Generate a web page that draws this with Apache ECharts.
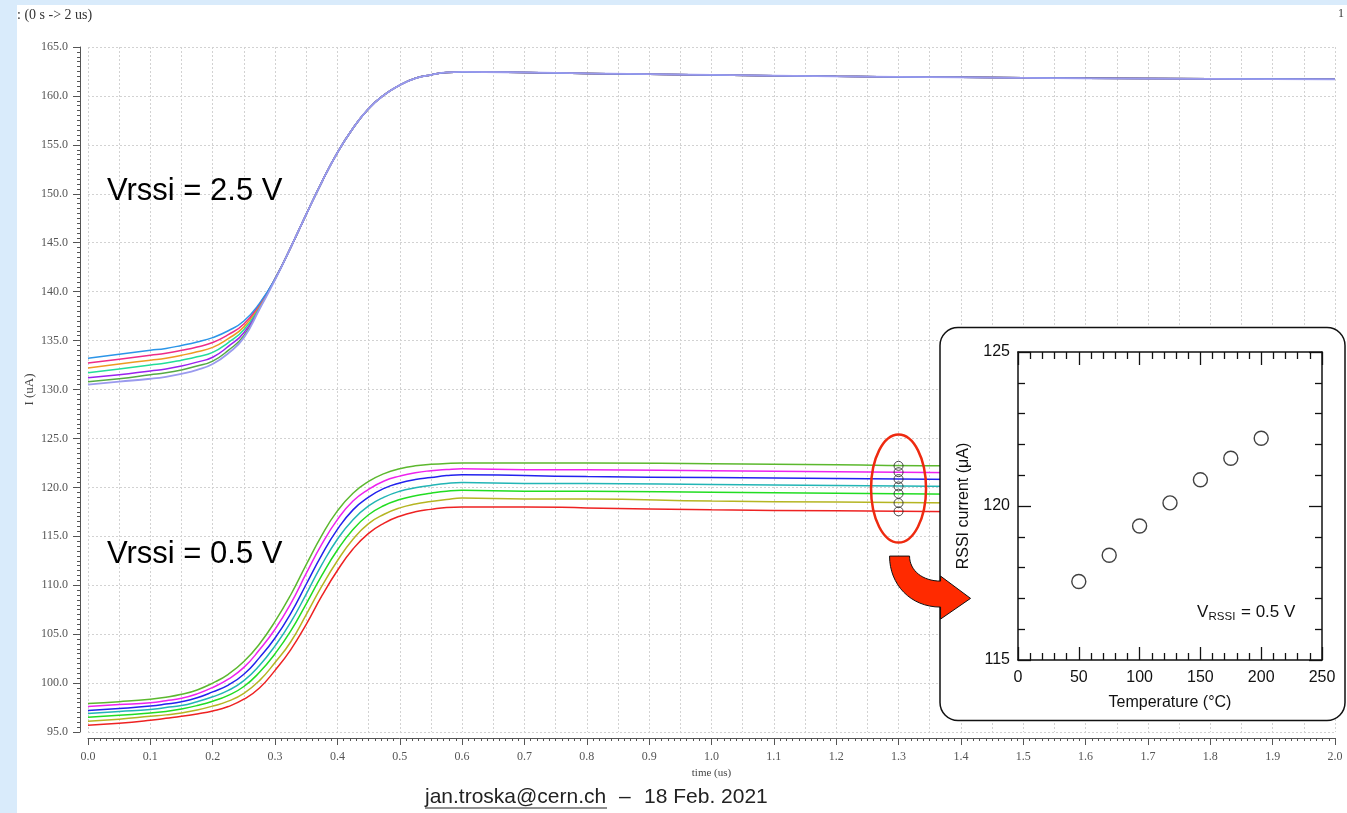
<!DOCTYPE html>
<html><head><meta charset="utf-8">
<script src="https://cdn.jsdelivr.net/npm/echarts/dist/echarts.min.js"></script>
<style>
html,body{margin:0;padding:0;width:1347px;height:813px;overflow:hidden;background:#d9ebfb;}
#bg{position:absolute;left:17px;top:5px;width:1330px;height:808px;background:#fff;}
#chart{position:absolute;left:0;top:0;width:1347px;height:813px;}
</style></head><body><div id="bg"></div><div id="chart"></div>
<script>
// ---- data ----
const timeUs = [0, 0.05, 0.1, 0.125, 0.15, 0.175, 0.2, 0.225, 0.25, 0.275, 0.3, 0.325, 0.35, 0.375, 0.4, 0.425, 0.45, 0.475, 0.5, 0.525, 0.55, 0.575, 0.6, 0.7, 0.8, 1.0, 1.2, 1.4, 1.6, 1.8, 2.0];

// Vrssi = 2.5 V traces (uA)
const hiBlue   = [133.2, 133.6, 134.0, 134.2, 134.5, 134.85, 135.3, 136.0, 137.0, 138.8, 141.3, 144.5, 147.9, 151.2, 154.2, 156.7, 158.7, 160.1, 161.1, 161.8, 162.15, 162.4, 162.45, 162.4, 162.3, 162.15, 162.0, 161.9, 161.8, 161.75, 161.7];
const hiPink   = [132.7, 133.1, 133.5, 133.7, 134.0, 134.35, 134.8, 135.6, 136.7, 138.7, 141.3, 144.5, 147.9, 151.2, 154.2, 156.7, 158.7, 160.1, 161.1, 161.8, 162.15, 162.4, 162.45, 162.4, 162.3, 162.15, 162.0, 161.9, 161.8, 161.75, 161.7];
const hiOrange = [132.2, 132.6, 133.0, 133.2, 133.5, 133.85, 134.3, 135.2, 136.4, 138.6, 141.3, 144.5, 147.9, 151.2, 154.2, 156.7, 158.7, 160.1, 161.1, 161.8, 162.15, 162.4, 162.45, 162.4, 162.3, 162.15, 162.0, 161.9, 161.8, 161.75, 161.7];
const hiTeal   = [131.7, 132.1, 132.5, 132.7, 133.0, 133.35, 133.8, 134.8, 136.1, 138.5, 141.3, 144.5, 147.9, 151.2, 154.2, 156.7, 158.7, 160.1, 161.1, 161.8, 162.15, 162.4, 162.45, 162.4, 162.3, 162.15, 162.0, 161.9, 161.8, 161.75, 161.7];
const hiPurple = [131.2, 131.5, 131.9, 132.1, 132.4, 132.8, 133.3, 134.4, 135.8, 138.4, 141.3, 144.5, 147.9, 151.2, 154.2, 156.7, 158.7, 160.1, 161.1, 161.8, 162.15, 162.4, 162.45, 162.4, 162.3, 162.15, 162.0, 161.9, 161.8, 161.75, 161.7];
const hiGreen  = [130.8, 131.1, 131.5, 131.7, 132.0, 132.4, 132.9, 134.0, 135.5, 138.3, 141.3, 144.5, 147.9, 151.2, 154.2, 156.7, 158.7, 160.1, 161.1, 161.8, 162.15, 162.4, 162.45, 162.4, 162.3, 162.15, 162.0, 161.9, 161.8, 161.75, 161.7];
const hiLav    = [130.5, 130.8, 131.1, 131.3, 131.6, 132.0, 132.6, 133.7, 135.3, 138.2, 141.2, 144.5, 147.9, 151.2, 154.2, 156.7, 158.7, 160.1, 161.1, 161.8, 162.15, 162.4, 162.45, 162.4, 162.3, 162.15, 162.0, 161.9, 161.8, 161.75, 161.7];

// Vrssi = 0.5 V traces (uA)
const lowGreen   = [97.9, 98.1, 98.35, 98.55, 98.85, 99.3, 100.0, 100.9, 102.2, 104.0, 106.3, 109.0, 112.1, 115.1, 117.6, 119.4, 120.6, 121.4, 121.9, 122.2, 122.35, 122.45, 122.5, 122.5, 122.5, 122.4, 122.3, 122.2, 122.2, 122.2, 122.2];
const lowMagenta = [97.6, 97.8, 98.0, 98.2, 98.45, 98.9, 99.55, 100.4, 101.6, 103.4, 105.5, 108.1, 111.2, 114.2, 116.7, 118.6, 119.8, 120.65, 121.15, 121.5, 121.7, 121.82, 121.9, 121.8, 121.8, 121.7, 121.6, 121.5, 121.4, 121.4, 121.4];
const lowBlue    = [97.2, 97.4, 97.65, 97.85, 98.1, 98.5, 99.1, 99.8, 100.9, 102.6, 104.6, 107.1, 110.1, 113.1, 115.7, 117.7, 119.0, 119.9, 120.45, 120.8, 121.0, 121.2, 121.3, 121.2, 121.1, 121.0, 120.9, 120.8, 120.7, 120.7, 120.7];
const lowCyan    = [96.9, 97.1, 97.3, 97.5, 97.7, 98.1, 98.6, 99.25, 100.25, 101.8, 103.8, 106.2, 109.1, 112.1, 114.7, 116.7, 118.1, 119.0, 119.6, 119.95, 120.2, 120.4, 120.5, 120.4, 120.4, 120.3, 120.2, 120.1, 120.0, 120.0, 120.0];
const lowLime    = [96.5, 96.7, 96.95, 97.1, 97.35, 97.7, 98.15, 98.75, 99.65, 101.1, 103.0, 105.3, 108.1, 111.0, 113.6, 115.7, 117.2, 118.15, 118.75, 119.15, 119.4, 119.6, 119.7, 119.6, 119.6, 119.5, 119.4, 119.3, 119.2, 119.2, 119.2];
const lowOlive   = [96.1, 96.3, 96.6, 96.75, 96.95, 97.25, 97.65, 98.15, 98.95, 100.25, 102.1, 104.2, 107.0, 109.9, 112.5, 114.7, 116.3, 117.25, 117.9, 118.3, 118.55, 118.75, 118.9, 118.8, 118.8, 118.6, 118.5, 118.4, 118.3, 118.3, 118.3];
const lowRed     = [95.7, 95.9, 96.2, 96.4, 96.6, 96.85, 97.15, 97.6, 98.35, 99.5, 101.3, 103.4, 106.0, 108.9, 111.5, 113.7, 115.3, 116.35, 117.05, 117.5, 117.75, 117.95, 118.0, 118.0, 117.9, 117.7, 117.6, 117.5, 117.4, 117.4, 117.4];

// inset: RSSI current vs temperature at Vrssi = 0.5 V, sampled at t = 1.3 us
const tempC = [50, 75, 100, 125, 150, 175, 200];
const rssiCurrent = [117.55, 118.4, 119.35, 120.1, 120.85, 121.55, 122.2];
const sampleTimeUs = 1.3;

const hiColors  = ['#2b95e8', '#ee2b88', '#ee9a22', '#22dd99', '#9a22ee', '#55aa44', '#9a9aee'];
const lowColors = ['#5cb82e', '#ee22ee', '#2222ee', '#22b5b5', '#22dd22', '#b5b522', '#ee2222'];
const hiSets  = [hiGreen, hiPurple, hiTeal, hiOrange, hiPink, hiBlue, hiLav];
const hiCol   = [hiColors[5], hiColors[4], hiColors[3], hiColors[2], hiColors[1], hiColors[0], hiColors[6]];
const lowSets = [lowRed, lowOlive, lowLime, lowCyan, lowBlue, lowMagenta, lowGreen];
const lowCol  = [lowColors[6], lowColors[5], lowColors[4], lowColors[3], lowColors[2], lowColors[1], lowColors[0]];

const chart = echarts.init(document.getElementById('chart'), null, {renderer: 'canvas'});

const serif = 'Liberation Serif';
const sans = 'Liberation Sans';
const axisGray = '#555';

function traceSeries(vals, color, w) {
  return {
    type: 'line', xAxisIndex: 0, yAxisIndex: 0,
    data: timeUs.map((t, i) => [t, vals[i]]),
    showSymbol: false, smooth: 0.5,
    lineStyle: {color: color, width: w}, z: 3, silent: true
  };
}

const series = [];
hiSets.forEach((s, i) => series.push(traceSeries(s, hiCol[i], i === 6 ? 1.8 : 1.5)));
lowSets.forEach((s, i) => series.push(traceSeries(s, lowCol[i], 1.5)));
series.push({
  type: 'scatter', xAxisIndex: 0, yAxisIndex: 0,
  data: rssiCurrent.map(v => [sampleTimeUs, v]),
  symbol: 'circle', symbolSize: 9,
  itemStyle: {color: 'rgba(255,255,255,0)', borderColor: '#222', borderWidth: 1}, z: 4, silent: true
});
series.push({
  type: 'scatter', xAxisIndex: 2, yAxisIndex: 1,
  data: tempC.map((t, i) => [t, rssiCurrent[i]]),
  symbol: 'circle', symbolSize: 14,
  itemStyle: {color: '#fff', borderColor: '#111', borderWidth: 1.4}, z: 12, silent: true
});

const insetAxisBase = {
  gridIndex: 1, z: 11,
  axisLine: {show: true, onZero: false, lineStyle: {color: '#111', width: 1.5}},
  axisTick: {show: true, inside: true, length: 13, lineStyle: {color: '#111', width: 1.3}},
  minorTick: {show: true, splitNumber: 5, length: 7, lineStyle: {color: '#111', width: 1.3}},
  splitLine: {show: false}
};

const option = {
  animation: false,
  backgroundColor: 'transparent',
  grid: [
    {left: 88, right: 12, top: 47, bottom: 81, outerBoundsMode: 'none', containLabel: false},
    {left: 1018, right: 25, top: 352, bottom: 153, outerBoundsMode: 'none', containLabel: false}
  ],
  xAxis: [
    {
      gridIndex: 0, type: 'value', min: 0, max: 2, interval: 0.1, offset: 6,
      axisLine: {show: true, onZero: false, lineStyle: {color: axisGray, width: 1}},
      axisTick: {show: true, length: 7, lineStyle: {color: axisGray}},
      minorTick: {show: true, splitNumber: 10, length: 3, lineStyle: {color: axisGray}},
      axisLabel: {formatter: v => v.toFixed(1), fontFamily: serif, fontSize: 12, color: '#555', margin: 13},
      splitLine: {show: false},
      name: 'time (us)', nameLocation: 'middle', nameGap: 30, nameMoveOverlap: false,
      nameTextStyle: {fontFamily: serif, fontSize: 11, color: '#444'}
    },
    {
      gridIndex: 0, type: 'value', min: 0, max: 2, interval: 0.05, position: 'bottom',
      axisLine: {show: false}, axisTick: {show: false}, axisLabel: {show: false},
      splitLine: {show: true, lineStyle: {color: '#d2d2d2', width: 1, type: [2, 2]}}
    },
    Object.assign({}, insetAxisBase, {
      type: 'value', min: 0, max: 250, interval: 50, position: 'bottom',
      axisLabel: {fontFamily: sans, fontSize: 16, color: '#111', margin: 10},
      name: 'Temperature (°C)', nameLocation: 'middle', nameGap: 35,
      nameTextStyle: {fontFamily: sans, fontSize: 16, color: '#111'}
    }),
    Object.assign({}, insetAxisBase, {
      type: 'value', min: 0, max: 250, interval: 50, position: 'top',
      axisLabel: {show: false}
    })
  ],
  yAxis: [
    {
      gridIndex: 0, type: 'value', min: 95, max: 165, interval: 5, offset: 8,
      axisLine: {show: true, onZero: false, lineStyle: {color: axisGray, width: 1}},
      axisTick: {show: true, length: 7, lineStyle: {color: axisGray}},
      minorTick: {show: true, splitNumber: 10, length: 3, lineStyle: {color: axisGray}},
      axisLabel: {formatter: v => v.toFixed(1), fontFamily: serif, fontSize: 12, color: '#555', margin: 12},
      splitLine: {show: true, lineStyle: {color: '#d2d2d2', width: 1, type: [2, 2]}},
      name: 'I (uA)', nameLocation: 'middle', nameGap: 44, nameRotate: 90, nameMoveOverlap: false,
      nameTextStyle: {fontFamily: serif, fontSize: 13, color: '#444'}
    },
    Object.assign({}, insetAxisBase, {
      type: 'value', min: 115, max: 125, interval: 5, position: 'left',
      axisLabel: {fontFamily: sans, fontSize: 16, color: '#111', margin: 8},
      name: 'RSSI current (μA)', nameLocation: 'middle', nameGap: 46, nameRotate: 90,
      nameTextStyle: {fontFamily: sans, fontSize: 16, color: '#111'}
    }),
    Object.assign({}, insetAxisBase, {
      type: 'value', min: 115, max: 125, interval: 5, position: 'right',
      axisLabel: {show: false}
    })
  ],
  series: series
};
chart.setOption(option);

// annotations positioned from the data scale
const c = chart.convertToPixel({xAxisIndex: 0, yAxisIndex: 0}, [sampleTimeUs, (rssiCurrent[0] + rssiCurrent[rssiCurrent.length - 1]) / 2]);
const cx = c[0], cy = c[1];

// curved arrow outline (relative to ellipse centre)
function bez(p0, p1, p2, p3, n) {
  const out = [];
  for (let i = 0; i <= n; i++) {
    const t = i / n, u = 1 - t;
    out.push([
      u*u*u*p0[0] + 3*u*u*t*p1[0] + 3*u*t*t*p2[0] + t*t*t*p3[0],
      u*u*u*p0[1] + 3*u*u*t*p1[1] + 3*u*t*t*p2[1] + t*t*t*p3[1]
    ]);
  }
  return out;
}
const inner = bez([11, 67.5], [11, 82], [24, 92.5], [42, 92.5], 16);
const outer = bez([42, 118.5], [12, 118.5], [-9, 96], [-9, 67.5], 16);
const arrowPts = [[-9, 67.5]].concat(inner, [[42, 87.5], [72, 109.8], [42, 130.5]], outer)
  .map(p => [p[0] + cx, p[1] + cy]);

function txt(x, y, text, size, family, color, align) {
  return {
    type: 'text', x: x, y: y, z: 30,
    style: {text: text, fontSize: size, fontFamily: family, fill: color,
            textAlign: align || 'left', textVerticalAlign: 'middle'}
  };
}

chart.setOption({
  graphic: [
    {type: 'rect', z: 8, shape: {x: 940, y: 327.5, width: 405, height: 393, r: 18},
     style: {fill: '#fff', stroke: '#111', lineWidth: 1.5}},
    {type: 'ellipse', z: 25, shape: {cx: cx, cy: cy, rx: 27.5, ry: 54},
     style: {fill: 'none', stroke: '#ee2a10', lineWidth: 2.5}},
    {type: 'polygon', z: 26, shape: {points: arrowPts},
     style: {fill: '#ff2a00', stroke: '#111', lineWidth: 1}},
    txt(107, 191, 'Vrssi = 2.5 V', 31, sans, '#000'),
    txt(107, 554, 'Vrssi = 0.5 V', 31, sans, '#000'),
    txt(1197, 612, 'V', 17, sans, '#111'),
    txt(1208.5, 617, 'RSSI', 11.5, sans, '#111'),
    txt(1241, 612, '= 0.5 V', 17, sans, '#111'),
    txt(17, 15, ': (0 s -> 2 us)', 14, serif, '#333'),
    txt(1338, 14, '1', 12, serif, '#333'),
    txt(425, 797, 'jan.troska@cern.ch', 21, sans, '#222'),
    {type: 'line', z: 30, shape: {x1: 425, y1: 808, x2: 607, y2: 808}, style: {stroke: '#222', lineWidth: 1.2}},
    txt(619, 797, '–', 21, sans, '#222'),
    txt(644, 797, '18 Feb. 2021', 21, sans, '#222')
  ]
});
</script>
</body></html>
